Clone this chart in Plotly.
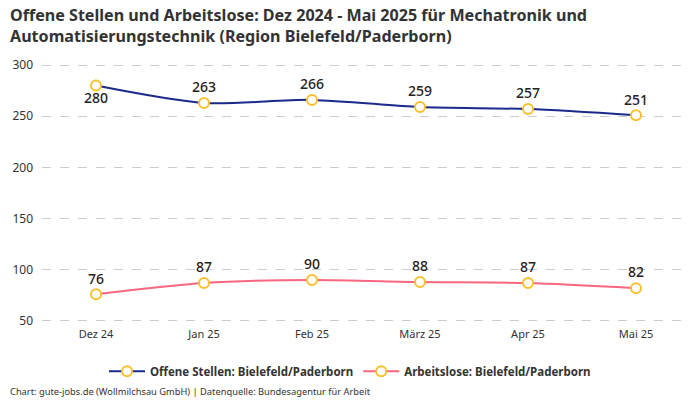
import plotly.graph_objects as go

months = ["Dez 24", "Jan 25", "Feb 25", "März 25", "Apr 25", "Mai 25"]
offene_stellen = [280, 263, 266, 259, 257, 251]
arbeitslose = [76, 87, 90, 88, 87, 82]
offene_pos = ["bottom center", "top center", "top center", "top center", "top center", "top center"]
arbeitslose_pos = ["top center"] * 6

FONT = "Noto Sans"
fig = go.Figure()
fig.add_trace(go.Scatter(
    x=months, y=offene_stellen, mode="lines+markers+text",
    name="Offene Stellen: Bielefeld/Paderborn",
    line=dict(color="#1b2a8a", width=2, shape="spline", smoothing=0.8),
    marker=dict(size=10, color="white", line=dict(color="#fbc02d", width=2)),
    text=[str(v) for v in offene_stellen], textposition=offene_pos,
    textfont=dict(family=FONT, size=14, color="#222", weight=500),
    cliponaxis=False,
))
fig.add_trace(go.Scatter(
    x=months, y=arbeitslose, mode="lines+markers+text",
    name="Arbeitslose: Bielefeld/Paderborn",
    line=dict(color="#f7677f", width=2, shape="spline", smoothing=0.8),
    marker=dict(size=10, color="white", line=dict(color="#fbc02d", width=2)),
    text=[str(v) for v in arbeitslose], textposition=arbeitslose_pos,
    textfont=dict(family=FONT, size=14, color="#222", weight=500),
    cliponaxis=False,
))

fig.update_layout(
    width=700, height=400,
    paper_bgcolor="white", plot_bgcolor="white",
    margin=dict(l=42, r=10, t=60, b=74, autoexpand=False),
    font=dict(family=FONT, size=12, color="#333"),
    xaxis=dict(
        type="category", range=[-0.5, 5.5], showgrid=False, showline=False,
        ticks="", tickfont=dict(size=11, color="#333"), zeroline=False,
        automargin=False,
    ),
    yaxis=dict(
        range=[45, 305], tickvals=[50, 100, 150, 200, 250, 300],
        showgrid=True, gridcolor="#cccccc", griddash="dash", gridwidth=1,
        zeroline=False, showline=False, ticks="",
        tickfont=dict(size=12, color="#333"), ticklabelstandoff=8,
        automargin=False,
    ),
    legend=dict(
        orientation="h", xref="container", x=0.5, xanchor="center",
        yref="container", y=0.072, yanchor="middle",
        font=dict(family=FONT, size=11.5, color="#333", weight="bold"),
        itemwidth=36,
    ),
    annotations=[
        dict(
            text="<b>Offene Stellen und Arbeitslose: Dez 2024 - Mai 2025 für Mechatronik und<br>Automatisierungstechnik (Region Bielefeld/Paderborn)</b>",
            xref="paper", yref="paper", x=-0.052, y=1.218, xanchor="left", yanchor="top",
            align="left", showarrow=False,
            font=dict(family=FONT, size=16.1, color="#333"),
        ),
        dict(
            text="Chart: gute-jobs.de (Wollmilchsau GmbH) | Datenquelle: Bundesagentur für Arbeit",
            xref="paper", yref="paper", x=-0.052, y=-0.213, xanchor="left", yanchor="top",
            showarrow=False, font=dict(family=FONT, size=9.3, color="#333"),
        ),
    ],
)

fig.write_html("out.html", config={"displayModeBar": False},
               post_script="document.body.style.margin='0';")
